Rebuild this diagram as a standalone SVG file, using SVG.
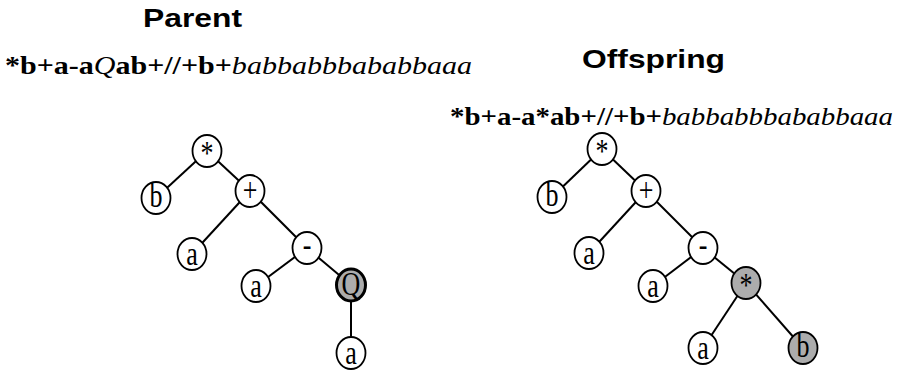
<svg xmlns="http://www.w3.org/2000/svg" width="899" height="372" viewBox="0 0 899 372">
<defs>
<style>
.edge{stroke:#000;stroke-width:2;fill:none}
.nd{fill:#fff;stroke:#000;stroke-width:1.8}
.hl{fill:#acacac;stroke:#000;stroke-width:1.8}
.dbl{fill:#acacac;stroke:#000;stroke-width:3}
</style>
</defs>
<rect width="899" height="372" fill="#fff"/>
<text x="143" y="27" font-family="Liberation Sans" font-weight="bold" font-size="25" textLength="99" lengthAdjust="spacingAndGlyphs">Parent</text>
<text x="582" y="68" font-family="Liberation Sans" font-weight="bold" font-size="26" textLength="143" lengthAdjust="spacingAndGlyphs">Offspring</text>
<text x="5" y="74" font-family="Liberation Serif" font-size="26" textLength="467" lengthAdjust="spacingAndGlyphs"><tspan font-weight="bold">*b+a-a</tspan><tspan font-style="italic">Q</tspan><tspan font-weight="bold">ab+//+b+</tspan><tspan font-style="italic">babbabbbababbaaa</tspan></text>
<text x="450" y="125" font-family="Liberation Serif" font-size="26" textLength="443" lengthAdjust="spacingAndGlyphs"><tspan font-weight="bold">*b+a-a*ab+//+b+</tspan><tspan font-style="italic">babbabbbababbaaa</tspan></text>
<g id="connectors">
<line class="edge" x1="207" y1="151" x2="156" y2="198"/>
<line class="edge" x1="207" y1="151" x2="250" y2="191"/>
<line class="edge" x1="250" y1="191" x2="192" y2="254"/>
<line class="edge" x1="250" y1="191" x2="307" y2="248"/>
<line class="edge" x1="307" y1="248" x2="256" y2="286"/>
<line class="edge" x1="307" y1="248" x2="351" y2="285"/>
<line class="edge" x1="351" y1="285" x2="351" y2="353"/>
<line class="edge" x1="602" y1="149" x2="552" y2="197"/>
<line class="edge" x1="602" y1="149" x2="646" y2="191"/>
<line class="edge" x1="646" y1="191" x2="589" y2="253"/>
<line class="edge" x1="646" y1="191" x2="703" y2="248"/>
<line class="edge" x1="703" y1="248" x2="653" y2="286"/>
<line class="edge" x1="703" y1="248" x2="746" y2="283"/>
<line class="edge" x1="746" y1="283" x2="703" y2="348"/>
<line class="edge" x1="746" y1="283" x2="803" y2="348"/>
</g>
<g id="p1"><ellipse class="nd" cx="207" cy="151" rx="14.5" ry="16"/><text transform="translate(207 151) scale(1 1.3)" x="0" y="10" font-family="Liberation Serif" font-size="26" text-anchor="middle">*</text></g>
<g id="p2"><ellipse class="nd" cx="156" cy="198" rx="14.5" ry="16"/><text transform="translate(156 198) scale(1 1.3)" x="0" y="7" font-family="Liberation Serif" font-size="26" text-anchor="middle">b</text></g>
<g id="p3"><ellipse class="nd" cx="250" cy="191" rx="14.5" ry="16"/><text transform="translate(250 191) scale(1 1.3)" x="0" y="8" font-family="Liberation Serif" font-size="26" text-anchor="middle">+</text></g>
<g id="p4"><ellipse class="nd" cx="192" cy="254" rx="14.5" ry="16"/><text transform="translate(192 254) scale(1 1.3)" x="0" y="8.5" font-family="Liberation Serif" font-size="26" text-anchor="middle">a</text></g>
<g id="p5"><ellipse class="nd" cx="307" cy="248" rx="14.5" ry="16"/><text transform="translate(307 248) scale(1 1.3)" x="0" y="6.5" font-family="Liberation Serif" font-size="26" text-anchor="middle">-</text></g>
<g id="p6"><ellipse class="nd" cx="256" cy="286" rx="14.5" ry="16"/><text transform="translate(256 286) scale(1 1.3)" x="0" y="8.5" font-family="Liberation Serif" font-size="26" text-anchor="middle">a</text></g>
<g id="p7"><ellipse class="dbl" cx="351" cy="285" rx="14.5" ry="16"/><text transform="translate(351 285) scale(1 1.3)" x="0" y="8" font-family="Liberation Serif" font-size="26" text-anchor="middle">Q</text></g>
<g id="p8"><ellipse class="nd" cx="351" cy="353" rx="14.5" ry="16"/><text transform="translate(351 353) scale(1 1.3)" x="0" y="8.5" font-family="Liberation Serif" font-size="26" text-anchor="middle">a</text></g>
<g id="o1"><ellipse class="nd" cx="602" cy="149" rx="14.5" ry="16"/><text transform="translate(602 149) scale(1 1.3)" x="0" y="10" font-family="Liberation Serif" font-size="26" text-anchor="middle">*</text></g>
<g id="o2"><ellipse class="nd" cx="552" cy="197" rx="14.5" ry="16"/><text transform="translate(552 197) scale(1 1.3)" x="0" y="7" font-family="Liberation Serif" font-size="26" text-anchor="middle">b</text></g>
<g id="o3"><ellipse class="nd" cx="646" cy="191" rx="14.5" ry="16"/><text transform="translate(646 191) scale(1 1.3)" x="0" y="8" font-family="Liberation Serif" font-size="26" text-anchor="middle">+</text></g>
<g id="o4"><ellipse class="nd" cx="589" cy="253" rx="14.5" ry="16"/><text transform="translate(589 253) scale(1 1.3)" x="0" y="8.5" font-family="Liberation Serif" font-size="26" text-anchor="middle">a</text></g>
<g id="o5"><ellipse class="nd" cx="703" cy="248" rx="14.5" ry="16"/><text transform="translate(703 248) scale(1 1.3)" x="0" y="6.5" font-family="Liberation Serif" font-size="26" text-anchor="middle">-</text></g>
<g id="o6"><ellipse class="nd" cx="653" cy="286" rx="14.5" ry="16"/><text transform="translate(653 286) scale(1 1.3)" x="0" y="8.5" font-family="Liberation Serif" font-size="26" text-anchor="middle">a</text></g>
<g id="o7"><ellipse class="hl" cx="746" cy="283" rx="14.5" ry="16"/><text transform="translate(746 283) scale(1 1.3)" x="0" y="10" font-family="Liberation Serif" font-size="26" text-anchor="middle">*</text></g>
<g id="o8"><ellipse class="nd" cx="703" cy="348" rx="14.5" ry="16"/><text transform="translate(703 348) scale(1 1.3)" x="0" y="8.5" font-family="Liberation Serif" font-size="26" text-anchor="middle">a</text></g>
<g id="o9"><ellipse class="hl" cx="803" cy="348" rx="14.5" ry="16"/><text transform="translate(803 348) scale(1 1.3)" x="0" y="7" font-family="Liberation Serif" font-size="26" text-anchor="middle">b</text></g>
</svg>
